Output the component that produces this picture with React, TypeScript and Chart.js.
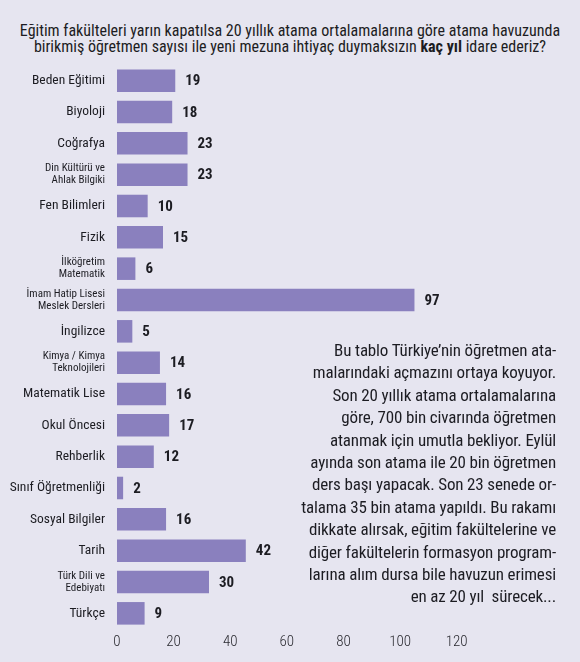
import React, { useEffect, useRef } from "react";
import { Chart, registerables } from "chart.js";

Chart.register(...registerables);

const FONT = '"Roboto Condensed", "Open Sans Condensed", "DejaVu Sans Condensed", sans-serif';

const categories: (string | string[])[] = [
  "Beden Eğitimi",
  "Biyoloji",
  "Coğrafya",
  ["Din Kültürü ve", "Ahlak Bilgiki"],
  "Fen Bilimleri",
  "Fizik",
  ["İlköğretim", "Matematik"],
  ["İmam Hatip Lisesi", "Meslek Dersleri"],
  "İngilizce",
  ["Kimya / Kimya", "Teknolojileri"],
  "Matematik Lise",
  "Okul Öncesi",
  "Rehberlik",
  "Sınıf Öğretmenliği",
  "Sosyal Bilgiler",
  "Tarih",
  ["Türk Dili ve", "Edebiyatı"],
  "Türkçe",
];

const years = [19, 18, 23, 23, 10, 15, 6, 97, 5, 14, 16, 17, 12, 2, 16, 42, 30, 9];

const xTickValues = [0, 20, 40, 60, 80, 100, 120];

const noteLines = [
  "Bu tablo Türkiye’nin öğretmen ata-",
  "malarındaki açmazını ortaya koyuyor.",
  "Son 20 yıllık atama ortalamalarına",
  "göre, 700 bin civarında öğretmen",
  "atanmak için umutla bekliyor. Eylül",
  "ayında son atama ile 20 bin öğretmen",
  "ders başı yapacak. Son 23 senede or-",
  "talama 35 bin atama yapıldı. Bu rakamı",
  "dikkate alırsak, eğitim fakültelerine ve",
  "diğer fakültelerin formasyon program-",
  "larına alım dursa bile havuzun erimesi",
  "en az 20 yıl  sürecek...",
];

const valueLabels = {
  id: "valueLabels",
  afterDatasetsDraw(chart: any) {
    const ctx = chart.ctx;
    const meta = chart.getDatasetMeta(0);
    ctx.save();
    ctx.font = `bold 15px ${FONT}`;
    ctx.fillStyle = "#1c1c22";
    ctx.textAlign = "left";
    ctx.textBaseline = "middle";
    meta.data.forEach((bar: any, i: number) => {
      ctx.fillText(String(years[i]), bar.x + 10, bar.y + 1);
    });
    ctx.restore();
  },
};

const App = () => {
  const chartRef: any = useRef(null);
  const chartInstance: any = useRef(null);

  useEffect(() => {
    if (!chartRef.current) return;
    const ctx = chartRef.current.getContext("2d");

    chartInstance.current = new Chart(ctx, {
      type: "bar",
      data: {
        labels: categories,
        datasets: [
          {
            label: "Yıl",
            data: years,
            backgroundColor: "#8a80be",
            barPercentage: 0.9,
            categoryPercentage: 0.8,
          },
        ],
      },
      options: {
        indexAxis: "y",
        animation: false,
        responsive: true,
        maintainAspectRatio: false,
        layout: { padding: { top: 65, right: 95, bottom: 9, left: 0 } },
        plugins: {
          legend: { display: false },
          tooltip: { enabled: false },
        },
        scales: {
          x: {
            display: false,
            min: 0,
            max: 120,
          },
          // label axis: the printed tick labels don't sit on the bar scale
          x2: {
            type: "linear",
            position: "bottom",
            min: 0,
            max: 130,
            grid: { display: false, drawTicks: false },
            border: { display: false },
            afterBuildTicks: (axis: any) => {
              axis.ticks = xTickValues.map((v) => ({ value: v }));
            },
            afterFit: (axis: any) => {
              axis.height = 24;
            },
            ticks: {
              padding: 4,
              color: "#2a2a30",
              font: { family: FONT, size: 15, weight: 300 },
            },
          },
          y: {
            grid: { display: false, drawTicks: false },
            border: { display: false },
            afterFit: (axis: any) => {
              axis.width = 117;
            },
            ticks: {
              padding: 12,
              color: "#1c1c22",
              font: (c: any) =>
                c.tick && Array.isArray(c.tick.label)
                  ? { family: FONT, size: 11, lineHeight: 1.1 }
                  : { family: FONT, size: 13.5 },
            },
          },
        },
      },
      plugins: [valueLabels],
    });

    return () => {
      if (chartInstance.current) {
        chartInstance.current.destroy();
      }
    };
  }, []);

  return (
    <div
      style={{
        position: "absolute",
        top: 0,
        left: 0,
        width: 580,
        height: 662,
        background: "#e6e5f0",
        fontFamily: FONT,
        color: "#1c1c22",
      }}
    >
      <div
        style={{
          position: "absolute",
          top: 23,
          left: 0,
          width: 580,
          textAlign: "center",
          fontSize: 16,
          lineHeight: "15.5px",
          whiteSpace: "nowrap",
        }}
      >
        Eğitim fakülteleri yarın kapatılsa 20 yıllık atama ortalamalarına göre atama havuzunda
        <br />
        birikmiş öğretmen sayısı ile yeni mezuna ihtiyaç duymaksızın <b>kaç yıl</b> idare ederiz?
      </div>
      <div style={{ position: "absolute", top: 0, left: 0, width: 580, height: 662 }}>
        <canvas ref={chartRef}></canvas>
      </div>
      <div
        style={{
          position: "absolute",
          top: 339,
          right: 24,
          textAlign: "right",
          fontSize: 17,
          letterSpacing: -0.15,
          lineHeight: "22.4px",
          whiteSpace: "pre",
        }}
      >
        {noteLines.map((line, i) => (
          <div key={i}>{line}</div>
        ))}
      </div>
    </div>
  );
};

export default App;
